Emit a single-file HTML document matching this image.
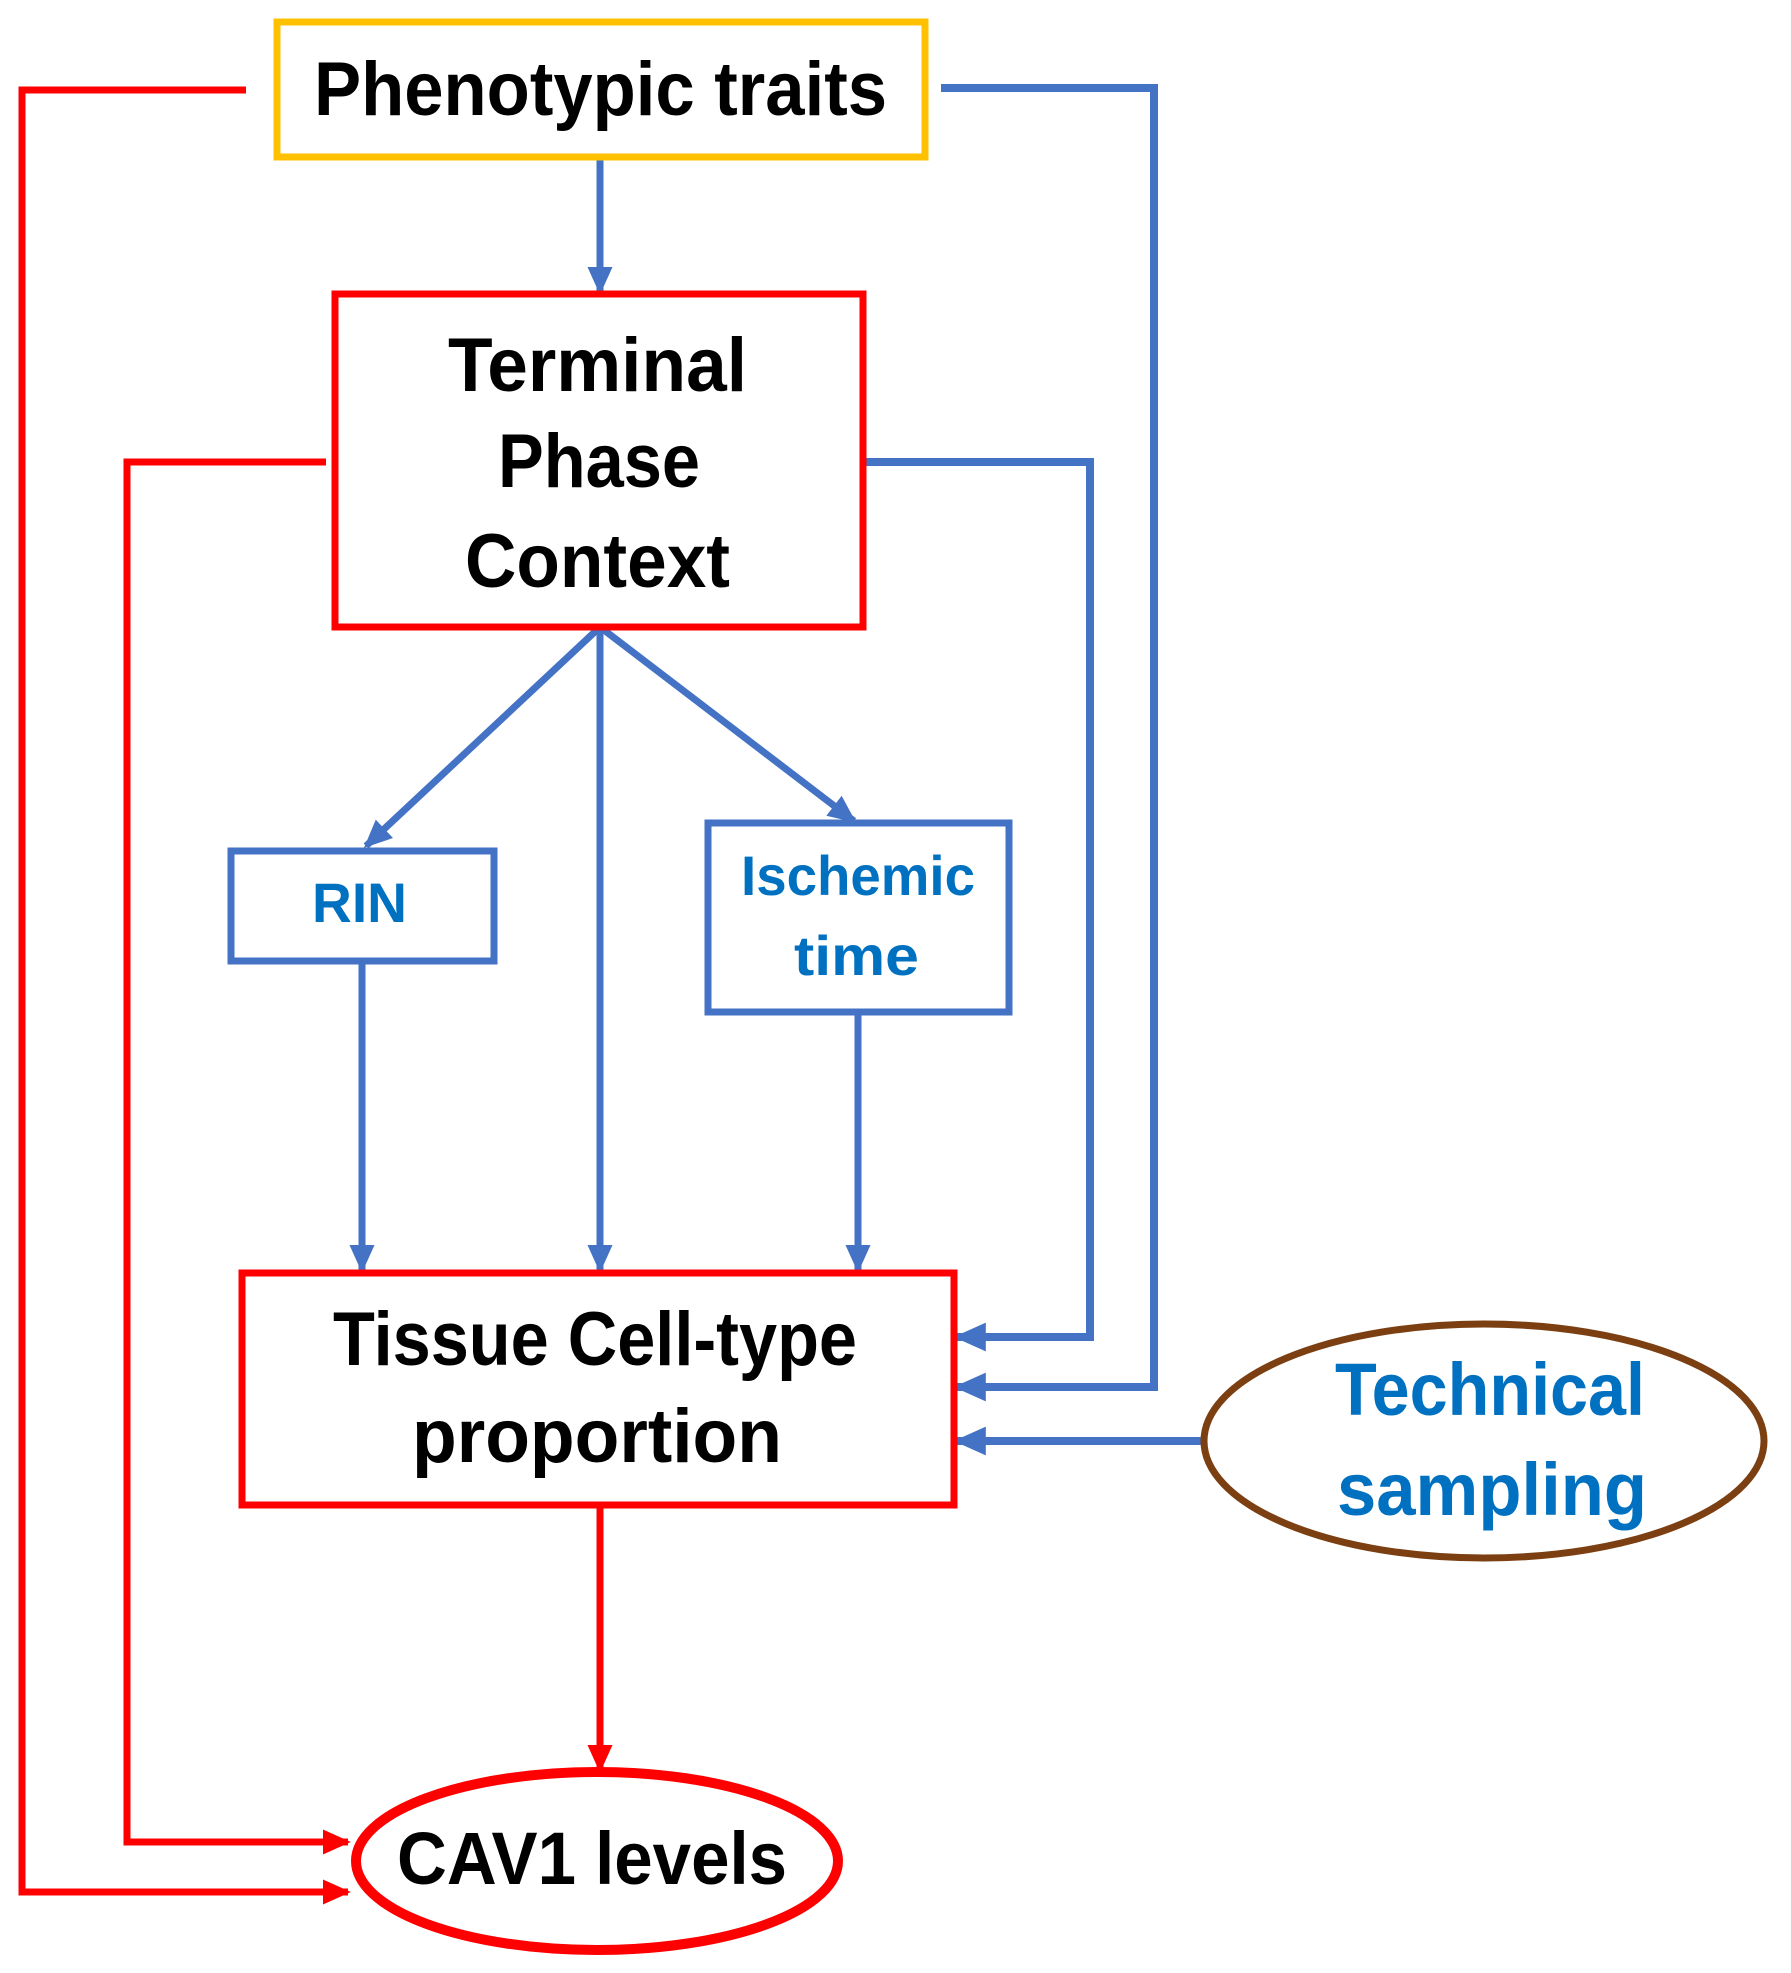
<!DOCTYPE html>
<html><head><meta charset="utf-8"><style>html,body{margin:0;padding:0;background:#fff}svg{display:block}</style></head><body>
<svg width="1791" height="1973" viewBox="0 0 1791 1973" xmlns="http://www.w3.org/2000/svg" font-family="'Liberation Sans Narrow','Liberation Sans',sans-serif" font-weight="bold">
<defs>
<marker id="ab" markerWidth="4" markerHeight="4" refX="3.6" refY="2" orient="auto" markerUnits="strokeWidth"><path d="M0,0.2 L4,2 L0,3.8 z" fill="#4472C4"/></marker>
<marker id="ar" markerWidth="4" markerHeight="4" refX="3.6" refY="2" orient="auto" markerUnits="strokeWidth"><path d="M0,0.2 L4,2 L0,3.8 z" fill="#FF0000"/></marker>
</defs>
<g fill="none" stroke-linejoin="miter">
<polyline points="246,90 22,90 22,1892 348,1892" stroke="#FF0000" stroke-width="7" marker-end="url(#ar)"/>
<polyline points="326,462 127,462 127,1842 348,1842" stroke="#FF0000" stroke-width="7" marker-end="url(#ar)"/>
<line x1="600" y1="1505" x2="600" y2="1770" stroke="#FF0000" stroke-width="7" marker-end="url(#ar)"/>
<polyline points="941,88 1154,88 1154,1387 957,1387" stroke="#4472C4" stroke-width="8" marker-end="url(#ab)"/>
<polyline points="863,462 1090,462 1090,1337 957,1337" stroke="#4472C4" stroke-width="8" marker-end="url(#ab)"/>
<line x1="1204" y1="1441" x2="957" y2="1441" stroke="#4472C4" stroke-width="8" marker-end="url(#ab)"/>
<line x1="600" y1="157" x2="600" y2="292" stroke="#4472C4" stroke-width="7" marker-end="url(#ab)"/>
<line x1="600" y1="627" x2="366" y2="846" stroke="#4472C4" stroke-width="7" marker-end="url(#ab)"/>
<line x1="600" y1="627" x2="600" y2="1270" stroke="#4472C4" stroke-width="7" marker-end="url(#ab)"/>
<line x1="600" y1="627" x2="854" y2="821" stroke="#4472C4" stroke-width="7" marker-end="url(#ab)"/>
<line x1="362" y1="961" x2="362" y2="1270" stroke="#4472C4" stroke-width="7" marker-end="url(#ab)"/>
<line x1="858" y1="1012" x2="858" y2="1270" stroke="#4472C4" stroke-width="7" marker-end="url(#ab)"/>
<rect x="277" y="22" width="648" height="135" stroke="#FFC000" stroke-width="7" fill="#fff"/>
<rect x="335" y="294" width="528" height="333" stroke="#FF0000" stroke-width="7" fill="#fff"/>
<rect x="231" y="851" width="263" height="110" stroke="#4472C4" stroke-width="7" fill="#fff"/>
<rect x="708" y="823" width="301" height="189" stroke="#4472C4" stroke-width="7" fill="#fff"/>
<rect x="242" y="1273" width="712" height="232" stroke="#FF0000" stroke-width="7" fill="#fff"/>
<ellipse cx="1484" cy="1441" rx="280" ry="117" stroke="#7B3F12" stroke-width="7" fill="#fff"/>
<ellipse cx="597" cy="1861" rx="241" ry="89" stroke="#FF0000" stroke-width="10" fill="#fff"/>
</g>
<g fill="#000">
<text x="314" y="115" font-size="76" textLength="573" lengthAdjust="spacingAndGlyphs">Phenotypic traits</text>
<text x="448" y="391" font-size="76" textLength="299" lengthAdjust="spacingAndGlyphs">Terminal</text>
<text x="498" y="487" font-size="76" textLength="202" lengthAdjust="spacingAndGlyphs">Phase</text>
<text x="465" y="587" font-size="76" textLength="265" lengthAdjust="spacingAndGlyphs">Context</text>
<text x="333" y="1365" font-size="76" textLength="524" lengthAdjust="spacingAndGlyphs">Tissue Cell-type</text>
<text x="412" y="1462" font-size="76" textLength="370" lengthAdjust="spacingAndGlyphs">proportion</text>
<text x="397" y="1884" font-size="74" textLength="390" lengthAdjust="spacingAndGlyphs">CAV1 levels</text>
</g>
<g fill="#0070C0">
<text x="312" y="922" font-size="56" textLength="95" lengthAdjust="spacingAndGlyphs">RIN</text>
<text x="741" y="895" font-size="56" textLength="234" lengthAdjust="spacingAndGlyphs">Ischemic</text>
<text x="794" y="975" font-size="56" textLength="125" lengthAdjust="spacingAndGlyphs">time</text>
<text x="1335" y="1415" font-size="74" textLength="310" lengthAdjust="spacingAndGlyphs">Technical</text>
<text x="1337" y="1515" font-size="74" textLength="310" lengthAdjust="spacingAndGlyphs">sampling</text>
</g>
</svg>
</body></html>
